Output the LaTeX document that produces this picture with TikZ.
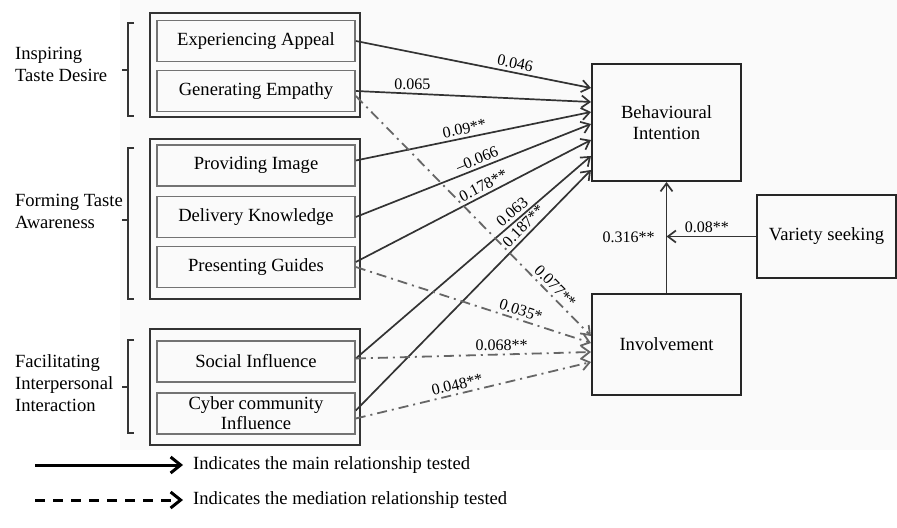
\documentclass[tikz,border=0pt]{standalone}
\usepackage{fontspec}
\setmainfont{Liberation Serif}
\usetikzlibrary{calc, arrows.meta}
\tikzset{>={Straight Barb[length=4pt,width=6pt]}}

\begin{document}
\begin{tikzpicture}[x=0.5pt, y=-0.5pt,
  font=\fontsize{9.3}{10}\selectfont,
  factor/.style={draw=black!55, line width=0.8pt, minimum width=99pt, minimum height=20.5pt, inner sep=0.5pt, align=center},
  outcome/.style={draw=black!85, line width=1pt, align=center, inner sep=1pt},
  group/.style={draw=black!80, line width=1.1pt},
  brack/.style={draw=black!80, line width=0.8pt},
  main/.style={->, draw=black!80, line width=0.85pt},
  medi/.style={->, draw=black!60, line width=0.9pt, dash pattern=on 5pt off 2.5pt on 1pt off 2.5pt},
  coef/.style={font=\fontsize{8}{9}\selectfont, inner sep=1.5pt},
  legendline/.style={->, line width=1.5pt, >={Straight Barb[length=5pt,width=8pt]}}]
  \useasboundingbox (0,0) rectangle (897,528);
  \fill[black!2] (120,0) rectangle (897,450);

  % GROUPS
  \draw[group] (150,13) rectangle (360,117);
  \draw[group] (150,139) rectangle (360,299);
  \draw[group] (150,329) rectangle (360,445);
  \draw[brack] (134,23) -- (128,23) -- (128,116) -- (134,116) (128,70) -- (122,70);
  \draw[brack] (134,148) -- (128,148) -- (128,299) -- (134,299) (128,220) -- (122,220);
  \draw[brack] (134,340) -- (128,340) -- (128,433) -- (134,433) (128,387) -- (122,387);
  \node[anchor=west, align=left, font=\fontsize{9.3}{11}\selectfont] (inspiring) at (8,64) {Inspiring\\Taste Desire};
  \node[anchor=west, align=left, font=\fontsize{9.3}{11}\selectfont] (forming) at (8,211) {Forming Taste\\Awareness};
  \node[anchor=west, align=left, font=\fontsize{9.3}{11}\selectfont] (facilitating) at (8,383) {Facilitating\\Interpersonal\\Interaction};

  % FACTORS
  \node[factor] (ea) at (256,41) {Experiencing Appeal};
  \node[factor] (ge) at (256,91) {Generating Empathy};
  \node[factor] (pi) at (256,165.5) {Providing Image};
  \node[factor] (dk) at (256,217) {Delivery Knowledge};
  \node[factor] (pg) at (256,267) {Presenting Guides};
  \node[factor] (si) at (256,361.5) {Social Influence};
  \node[factor] (cc) at (256,413.5) {Cyber community\\Influence};

  % OUTCOMES
  \node[outcome, minimum width=74.5pt, minimum height=58.5pt] (bi) at (666.5,122.5) {Behavioural\\[0.5pt]Intention};
  \node[outcome, minimum width=74.5pt, minimum height=50.5pt] (inv) at (666.5,344.5) {Involvement};
  \node[outcome, minimum width=69.5pt, minimum height=41.5pt] (vs) at (826.5,236.5) {Variety seeking};

  % MAIN PATHS
  \draw[main] (ea.east) -- ([yshift=17.25pt]bi.west) node[coef, sloped, above, pos=0.67] {0.046};
  \draw[main] (ge.east) -- ([yshift=10.25pt]bi.west) node[coef, above, pos=0.24] {0.065};
  \draw[main] ([yshift=2.5pt]pi.east) -- ([yshift=5.25pt]bi.west) node[coef, sloped, above, pos=0.47] {0.09**};
  \draw[main] (dk.east) -- ([yshift=-0.75pt]bi.west) node[coef, sloped, above, pos=0.53] {--0.066};
  \draw[main] ([yshift=2.5pt]pg.east) -- ([yshift=-8.75pt]bi.west) node[coef, sloped, above, pos=0.56] {0.178**};
  \draw[main] ([yshift=1.5pt]si.east) -- ([yshift=-16.75pt]bi.west) node[coef, sloped, above, pos=0.69] {0.063};
  \draw[main] ([yshift=1.5pt]cc.east) -- ([yshift=-23.75pt]bi.west) node[coef, sloped, above, pos=0.74] {0.187**};

  % MEDIATION PATHS
  \draw[medi] ([yshift=-2.5pt]ge.east) -- ([yshift=4.25pt]inv.west) node[coef, sloped, above, pos=0.82] {0.077**};
  \draw[medi] (pg.east) -- ([yshift=0.75pt]inv.west) node[coef, sloped, above, pos=0.69] {0.035*};
  \draw[medi] ([yshift=1.5pt]si.east) -- ([yshift=-3.75pt]inv.west) node[coef, above, pos=0.62] {0.068**};
  \draw[medi] ([yshift=-2.5pt]cc.east) -- ([yshift=-8.75pt]inv.west) node[coef, sloped, above, pos=0.44] {0.048**};

  \draw[main] (inv.north) -- (bi.south) node[coef, left=4pt, pos=0.5] {0.316**};
  \draw[main] (vs.west) -- (vs.west -| inv.north) node[coef, above, pos=0.55] {0.08**};

  % LEGEND
  \coordinate (leg1a) at (35,465);
  \coordinate (leg1b) at (183,465);
  \coordinate (leg2a) at (35,500);
  \coordinate (leg2b) at (183,500);
  \draw[legendline] (leg1a) -- (leg1b) node[right=1pt] {Indicates the main relationship tested};
  \draw[legendline, dash pattern=on 5pt off 4pt] (leg2a) -- (leg2b) node[right=1pt] {Indicates the mediation relationship tested};
\end{tikzpicture}
\end{document}
